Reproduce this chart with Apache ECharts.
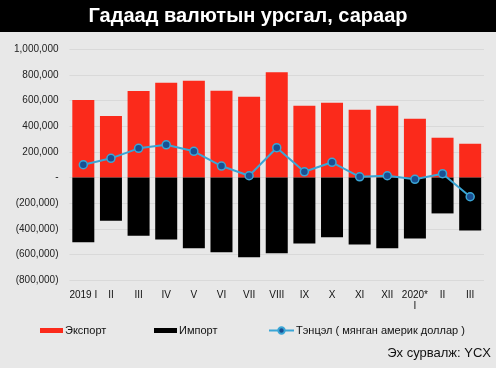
<!DOCTYPE html>
<html>
<head>
<meta charset="utf-8">
<script src="https://cdn.jsdelivr.net/npm/echarts@6/dist/echarts.min.js"></script>
<style>
html,body{margin:0;padding:0;background:#e8e8e8;}
#c{width:496px;height:368px;}
</style>
</head>
<body>
<div id="c"></div>
<script>
const categories = ['2019 I','II','III','IV','V','VI','VII','VIII','IX','X','XI','XII','2020*\nI','II','III'];
const exportVals = [605000,480000,676000,741000,756000,678000,631000,822000,561000,584000,530000,561000,459000,311000,264000];
const importVals = [-506000,-337000,-455000,-483000,-553000,-584000,-623000,-592000,-514000,-467000,-522000,-553000,-475000,-280000,-413000];
const balanceVals = [100000,150000,228000,256000,205000,90000,14000,233000,45000,119000,6000,14000,-14000,30000,-150000];
const seriesNames = ['Экспорт','Импорт','Тэнцэл ( мянган америк доллар )'];
const titleText = 'Гадаад валютын урсгал, сараар';
const sourceText = 'Эх сурвалж: YCX';

function fmt(v){
  if (v === 0) return '-';
  const s = Math.abs(v).toLocaleString('en-US');
  return v < 0 ? '(' + s + ')' : s;
}

const FONT = '"Liberation Sans", Arial, sans-serif';
const legendText = {fontSize:11, color:'#111', fontFamily:FONT, padding:[0,0,0,-3]};

const chart = echarts.init(document.getElementById('c'));
chart.setOption({
  backgroundColor: '#e8e8e8',
  animation: false,
  graphic: [
    {type:'rect', left:0, top:0, shape:{width:496, height:32}, style:{fill:'#000'}, z:0},
    {type:'text', left:'center', top:6, style:{text:titleText, fill:'#fff', font:'bold 20px ' + FONT}, z:1},
    {type:'text', right:5, top:347, style:{text:sourceText, fill:'#111', font:'13px ' + FONT}}
  ],
  legend: [
    {data:[seriesNames[0]], left:40, top:325, padding:0, itemWidth:23, itemHeight:5, icon:'rect', textStyle:legendText},
    {data:[seriesNames[1]], left:154, top:325, padding:0, itemWidth:23, itemHeight:5, icon:'rect', textStyle:legendText},
    {data:[seriesNames[2]], left:268, top:325, padding:0, itemWidth:25, itemHeight:8, textStyle:legendText}
  ],
  grid: {left:69.5, right:12, top:49.5, bottom:88},
  xAxis: {
    type:'category', data:categories,
    axisLine:{show:false}, axisTick:{show:false},
    axisLabel:{interval:0, fontSize:10, color:'#111', margin:10, lineHeight:11, fontFamily:FONT}
  },
  yAxis: {
    type:'value', min:-800000, max:1000000, interval:200000,
    axisLine:{show:false}, axisTick:{show:false},
    splitLine:{lineStyle:{color:'#d9d9d9', width:1}},
    axisLabel:{formatter:fmt, fontSize:10, color:'#222', margin:11, fontFamily:FONT}
  },
  series: [
    {name:seriesNames[0], type:'bar', data:exportVals, barWidth:22, barGap:'-100%', itemStyle:{color:'#fb2a1b'}},
    {name:seriesNames[1], type:'bar', data:importVals, barWidth:22, itemStyle:{color:'#000'}},
    {name:seriesNames[2], type:'line', data:balanceVals, z:5,
     symbol:'circle', symbolSize:8,
     lineStyle:{color:'#3aa6d6', width:2},
     itemStyle:{color:'#1a4f92', borderColor:'#3aa6d6', borderWidth:1.5}}
  ]
});
</script>
</body>
</html>
